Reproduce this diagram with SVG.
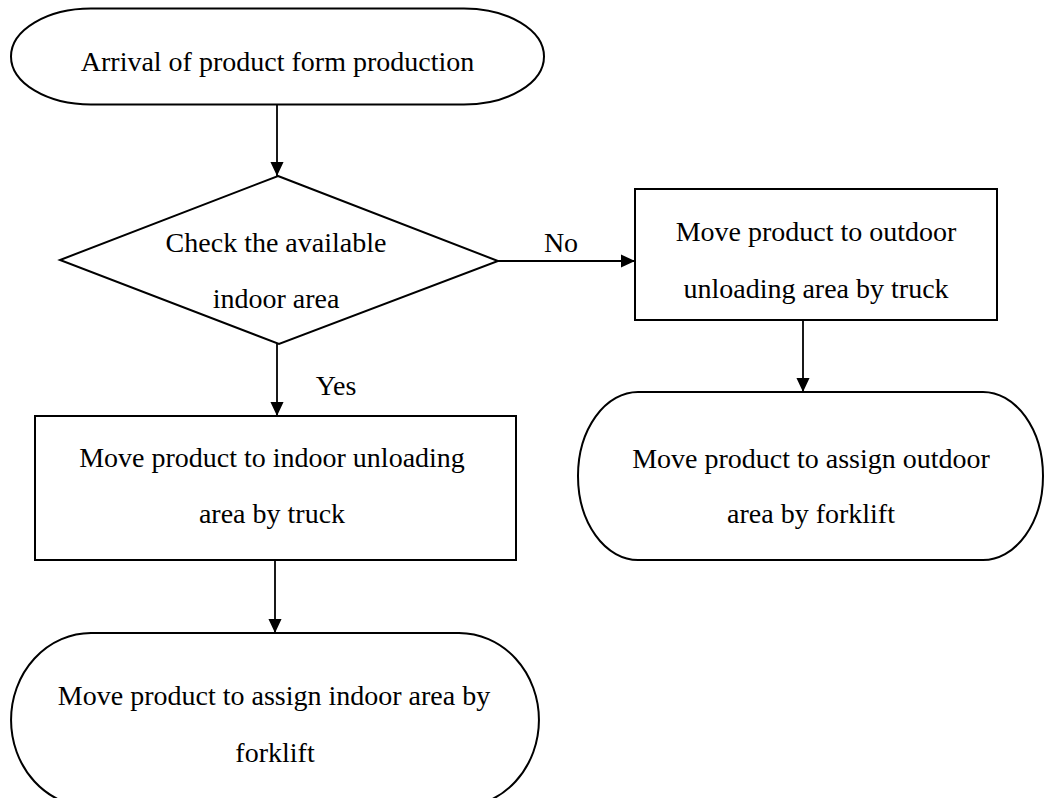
<svg xmlns="http://www.w3.org/2000/svg" width="1045" height="798" viewBox="0 0 1045 798">
  <defs>
    <marker id="arrow" markerWidth="14" markerHeight="14" refX="15" refY="7" viewBox="0 0 15 14" markerUnits="userSpaceOnUse" orient="auto">
      <path d="M0,0 L15,7 L0,14 Z" fill="#000"/>
    </marker>
    <style>
      .shape { fill: #fff; stroke: #000; stroke-width: 2; }
      .conn { fill: none; stroke: #000; stroke-width: 1.8; marker-end: url(#arrow); }
      .t { font-family: "Liberation Serif", "Times New Roman", serif; font-size: 28px; fill: #000; text-anchor: middle; }
    </style>
  </defs>
  <rect width="1045" height="798" fill="#fff"/>

  <g id="connectors">
    <line class="conn" x1="277" y1="105" x2="277" y2="176"/>
    <line class="conn" x1="498" y1="261" x2="635" y2="261"/>
    <line class="conn" x1="277" y1="344" x2="277" y2="416"/>
    <line class="conn" x1="803" y1="320" x2="803" y2="392"/>
    <line class="conn" x1="275" y1="560" x2="275" y2="633"/>
    <text class="t" x="561" y="252">No</text>
    <text class="t" x="336" y="395">Yes</text>
  </g>

  <g id="start">
    <path class="shape" d="M91,8.5 H464 A80,48 0 0 1 464,104.5 H91 A80,48 0 0 1 91,8.5 Z"/>
    <text class="t" x="277.5" y="71">Arrival of product form production</text>
  </g>

  <g id="decision">
    <polygon class="shape" points="278,176 498,261 279,344 60,260"/>
    <text class="t" x="276" y="252">Check the available</text>
    <text class="t" x="276" y="308">indoor area</text>
  </g>

  <g id="outdoor-unload">
    <rect class="shape" x="635" y="189" width="362" height="131"/>
    <text class="t" x="816" y="241">Move product to outdoor</text>
    <text class="t" x="816" y="298">unloading area by truck</text>
  </g>

  <g id="outdoor-assign">
    <path class="shape" d="M638,392 H983 A60,84 0 0 1 983,560 H638 A60,84 0 0 1 638,392 Z"/>
    <text class="t" x="811" y="468">Move product to assign outdoor</text>
    <text class="t" x="811" y="523">area by forklift</text>
  </g>

  <g id="indoor-unload">
    <rect class="shape" x="35" y="416" width="481" height="144"/>
    <text class="t" x="272" y="467">Move product to indoor unloading</text>
    <text class="t" x="272" y="523">area by truck</text>
  </g>

  <g id="indoor-assign">
    <path class="shape" d="M91,633 H459 A80,87 0 0 1 459,807 H91 A80,87 0 0 1 91,633 Z"/>
    <text class="t" x="274" y="705">Move product to assign indoor area by</text>
    <text class="t" x="275" y="762">forklift</text>
  </g>
</svg>
